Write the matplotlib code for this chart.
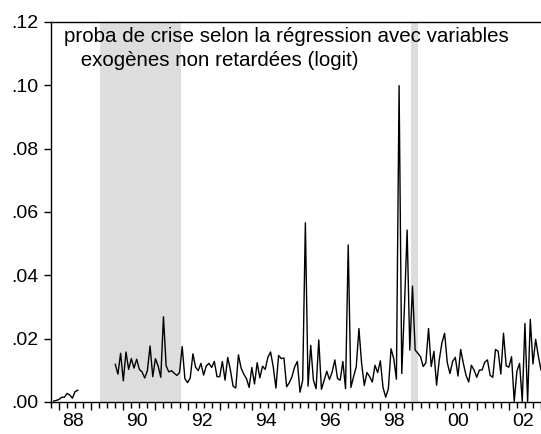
import numpy as np
import matplotlib
matplotlib.use("Agg")
import matplotlib.pyplot as plt
import matplotlib.transforms as mtransforms

# Monthly series; index 0 = Jan 1988
seg1_start = -2  # Nov 1987
seg1_values = [0.0003, 0.0005, 0.0008, 0.0015, 0.0015, 0.0027, 0.0022, 0.0012, 0.0033, 0.0037]

seg2_start = 21  # Oct 1989
seg2_values = [
    0.0119, 0.0088, 0.0154, 0.0067, 0.0158, 0.0103, 0.0137, 0.0107, 0.0135, 0.0103,
    0.0095, 0.0076, 0.0099, 0.0177, 0.0080, 0.0137, 0.0114, 0.0078, 0.0269, 0.0114,
    0.0095, 0.0099, 0.0091, 0.0084, 0.0093, 0.0175, 0.0074, 0.0061, 0.0076, 0.0152,
    0.0110, 0.0099,
    0.0122, 0.0085, 0.0114, 0.0122, 0.0109, 0.0128, 0.0080, 0.0080, 0.0128, 0.0069,
    0.0141, 0.0101, 0.0050, 0.0044, 0.0149, 0.0107, 0.0088, 0.0074, 0.0046, 0.0109,
    0.0057, 0.0124, 0.0076, 0.0113, 0.0103, 0.0141, 0.0158, 0.0111, 0.0044, 0.0147,
    0.0137, 0.0139, 0.0048, 0.0061, 0.0080, 0.0111, 0.0128, 0.0031, 0.0069, 0.0566,
    0.0050, 0.0179, 0.0069, 0.0042, 0.0196, 0.0040, 0.0069, 0.0097, 0.0071, 0.0095,
    0.0133, 0.0074, 0.0069, 0.0128, 0.0042, 0.0496, 0.0046, 0.0080, 0.0111, 0.0232,
    0.0122, 0.0052, 0.0093, 0.0080,
    0.0063, 0.0116, 0.0093, 0.0130, 0.0046, 0.0015, 0.0042, 0.0168, 0.0137, 0.0072,
    0.0999, 0.0090, 0.0300, 0.0543, 0.0164, 0.0366, 0.0164, 0.0154, 0.0143, 0.0112,
    0.0124, 0.0232, 0.0112, 0.0160, 0.0053, 0.0133, 0.0187, 0.0217, 0.0124, 0.0090,
    0.0128, 0.0141, 0.0082, 0.0166, 0.0122, 0.0084, 0.0063, 0.0116, 0.0101, 0.0078,
    0.0101, 0.0101, 0.0126, 0.0133, 0.0084, 0.0078, 0.0166, 0.0160, 0.0088, 0.0217,
    0.0114, 0.0110, 0.0143, 0.0002, 0.0097, 0.0122, 0.0002, 0.0248, 0.0002, 0.0261,
    0.0120, 0.0198, 0.0145, 0.0101,
]

# Shaded periods (in month index units)
shade_periods = [(15.4, 45.5), (131.4, 134.0)]

year_labels = ["88", "90", "92", "94", "96", "98", "00", "02"]
label_years = [1988, 1990, 1992, 1994, 1996, 1998, 2000, 2002]
y_ticks = [0.00, 0.02, 0.04, 0.06, 0.08, 0.10, 0.12]
y_tick_labels = [".00", ".02", ".04", ".06", ".08", ".10", ".12"]

title_lines = ["proba de crise selon la régression avec variables",
               " exogènes non retardées (logit)"]

FAM = ['Liberation Sans', 'DejaVu Sans']
plt.rcParams['font.family'] = FAM

W, H = 541, 434
fig = plt.figure(figsize=(W / 100, H / 100), dpi=100)
ax = fig.add_axes([51 / W, (H - 402) / H, (W - 51) / W, (402 - 22) / H])

x1 = np.arange(seg1_start, seg1_start + len(seg1_values))
x2 = np.arange(seg2_start, seg2_start + len(seg2_values))

for a, b in shade_periods:
    ax.axvspan(a, b, color="#dddddd", lw=0, zorder=0)

ax.plot(x1, seg1_values, color="black", lw=1.0, zorder=2)
ax.plot(x2, seg2_values, color="black", lw=1.0, zorder=2)

ax.set_xlim((51 - 57) / 2.69, (541 - 57) / 2.69)
ax.set_ylim(0, 0.12)

ax.spines["right"].set_visible(False)
for s in ["left", "bottom", "top"]:
    ax.spines[s].set_linewidth(1.0)

ax.set_yticks(y_ticks)
ax.set_yticklabels(y_tick_labels, fontsize=14, family=FAM)
ax.tick_params(axis="y", direction="out", length=5, width=1.0, pad=4)

year_starts = np.arange(0, 15 * 12 + 1, 12)
ax.set_xticks(year_starts)
ax.set_xticklabels([])
ax.set_xticks(np.arange(-3, 181, 3), minor=True)
ax.tick_params(axis="x", which="major", direction="out", length=6, width=1.0)
ax.tick_params(axis="x", which="minor", direction="out", length=4, width=1.0)

trans = mtransforms.blended_transform_factory(ax.transData, fig.transFigure)
for yr, lab in zip(label_years, year_labels):
    xpos = (yr - 1988) * 12 + 5.2
    ax.text(xpos, (H - 421) / H, lab, transform=trans, ha="center", va="center",
            fontsize=14, family=FAM, clip_on=False)

ax.text(64 / W, (H - 36) / H, title_lines[0], transform=fig.transFigure,
        ha="left", va="center", fontsize=14.8, family=FAM, zorder=3)
ax.text(75 / W, (H - 61) / H, title_lines[1], transform=fig.transFigure,
        ha="left", va="center", fontsize=14.8, family=FAM, zorder=3)

fig.savefig("out.png", dpi=100)
